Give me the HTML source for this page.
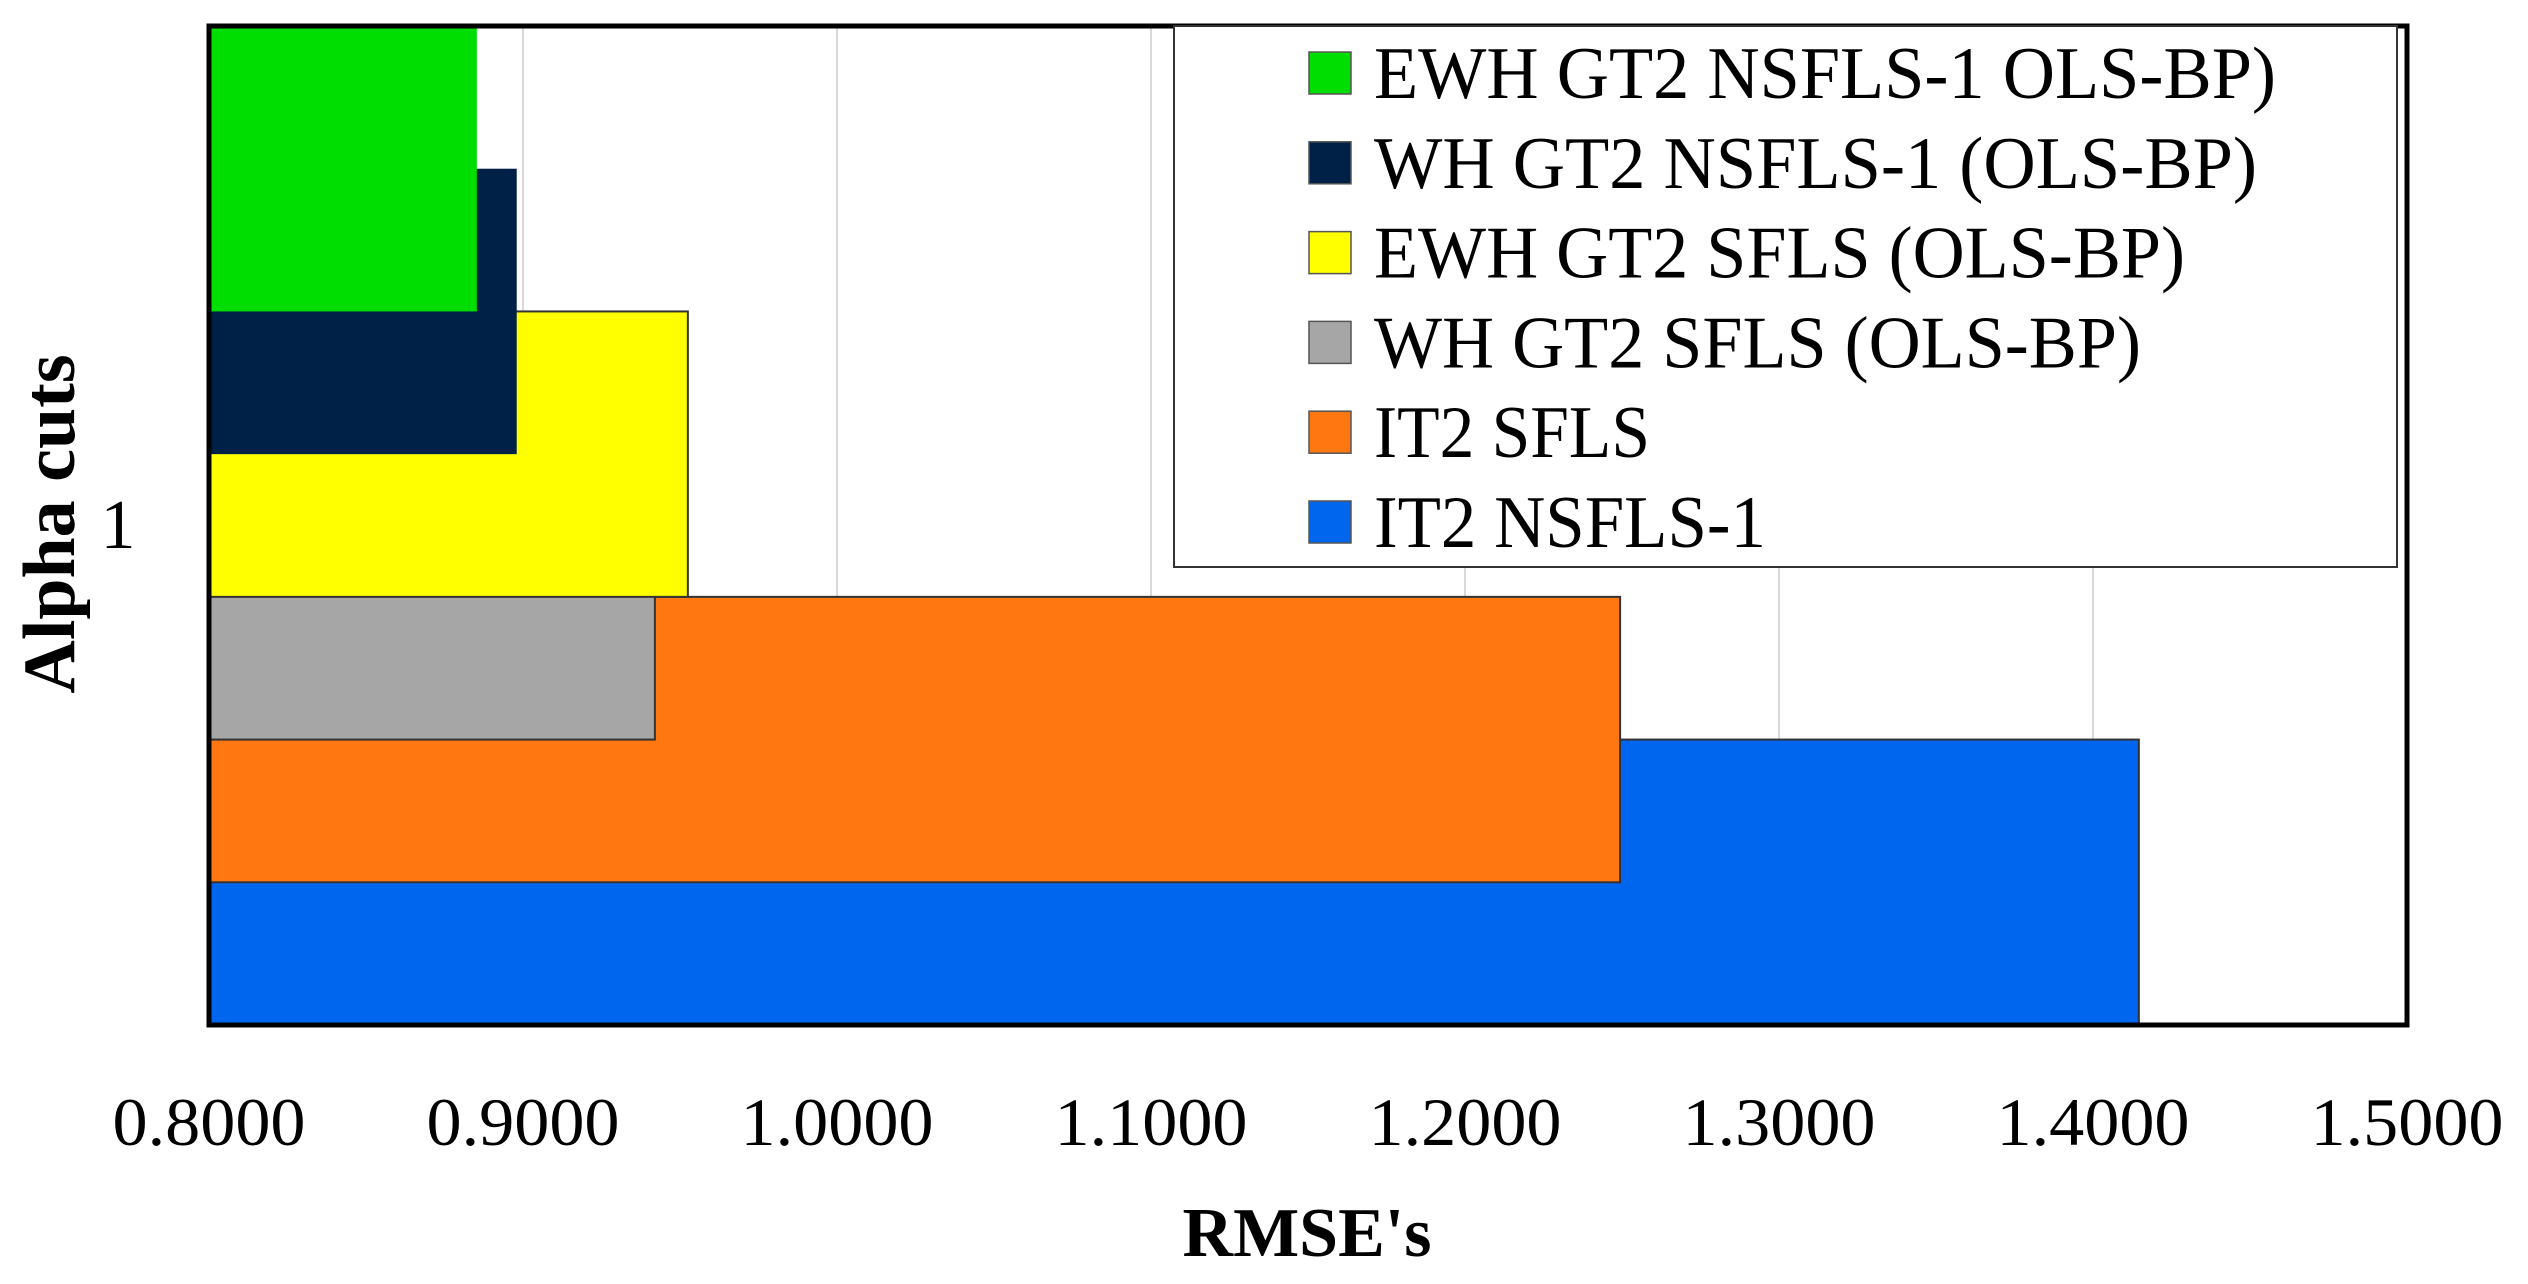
<!DOCTYPE html>
<html><head><meta charset="utf-8">
<style>html,body{margin:0;padding:0;background:#fff;}svg{display:block;}</style>
</head><body>
<svg id="chart" width="2528" height="1284" viewBox="0 0 2528 1284" xmlns="http://www.w3.org/2000/svg" font-family="'Liberation Serif', serif">
<g id="grid"></g>
<g id="bars"></g>
<rect x="209" y="26" width="2198" height="999" fill="none" stroke="#000" stroke-width="5"/>
<g id="legend"></g>
<g id="ticks"></g>
<text x="118" y="548" font-size="70" text-anchor="middle">1</text>
<text x="1307" y="1256" font-size="70" font-weight="bold" text-anchor="middle">RMSE's</text>
<text transform="translate(74,524) rotate(-90)" font-size="74" font-weight="bold" text-anchor="middle">Alpha cuts</text>
</svg>
<script>
const seriesNames = ["IT2 NSFLS-1","IT2 SFLS","WH GT2 SFLS (OLS-BP)","EWH GT2 SFLS (OLS-BP)","WH GT2 NSFLS-1 (OLS-BP)","EWH GT2 NSFLS-1 OLS-BP)"];
const seriesValues = [1.4146, 1.2494, 0.9420, 0.9525, 0.8980, 0.8853];
const seriesColors = ["#0066ee","#ff7711","#a6a6a6","#ffff00","#002147","#00dd00"];
const tickValues = [0.8,0.9,1.0,1.1,1.2,1.3,1.4,1.5];
const tickLabels = ["0.8000","0.9000","1.0000","1.1000","1.2000","1.3000","1.4000","1.5000"];
const legendWidths = [902,883,811,767,276,392];

const NS="http://www.w3.org/2000/svg";
const X0=209, X1=2407, XMIN=0.8, XMAX=1.5, YT=26, YB=1025;
const slot=(YB-YT)/7;
function xs(v){return X0+(v-XMIN)/(XMAX-XMIN)*(X1-X0);}
function mk(tag,attrs,parent){const e=document.createElementNS(NS,tag);for(const k in attrs)e.setAttribute(k,attrs[k]);parent.appendChild(e);return e;}
const grid=document.getElementById('grid'), bars=document.getElementById('bars'), ticks=document.getElementById('ticks'), legend=document.getElementById('legend');
tickValues.forEach((v,i)=>{
  if(i>0&&i<tickValues.length-1){
    const l=mk('line',{x1:xs(v),x2:xs(v),y1:YT,y2:YB,stroke:'#d9d9d9','stroke-width':2},grid);
    
    
  }
  const t=mk('text',{x:xs(v),y:1145,'font-size':68,'text-anchor':'middle',textLength:193,lengthAdjust:'spacingAndGlyphs'},ticks);
  t.textContent=tickLabels[i];
  
  
});
seriesValues.forEach((v,i)=>{
  const top=YT+(5-i)*slot;
  const r=mk('rect',{x:X0,y:top,width:xs(v)-X0,height:2*slot,fill:seriesColors[i],stroke:(i>=4?'none':'#333'),'stroke-width':2},bars);
  
  
});
mk('rect',{x:1174,y:26,width:1223,height:541,fill:'#fff',stroke:'#333','stroke-width':2},legend);
for(let k=0;k<6;k++){
  const i=5-k;
  const cy=73+k*89.8;
  const sw=mk('rect',{x:1309,y:cy-21,width:42,height:42,fill:seriesColors[i],stroke:'#555','stroke-width':1.5},legend);
  
  
  const t=mk('text',{x:1374,y:cy+25,'font-size':74,textLength:legendWidths[k],lengthAdjust:'spacingAndGlyphs'},legend);
  t.textContent=seriesNames[i];
  
  
}
</script>
</body></html>
